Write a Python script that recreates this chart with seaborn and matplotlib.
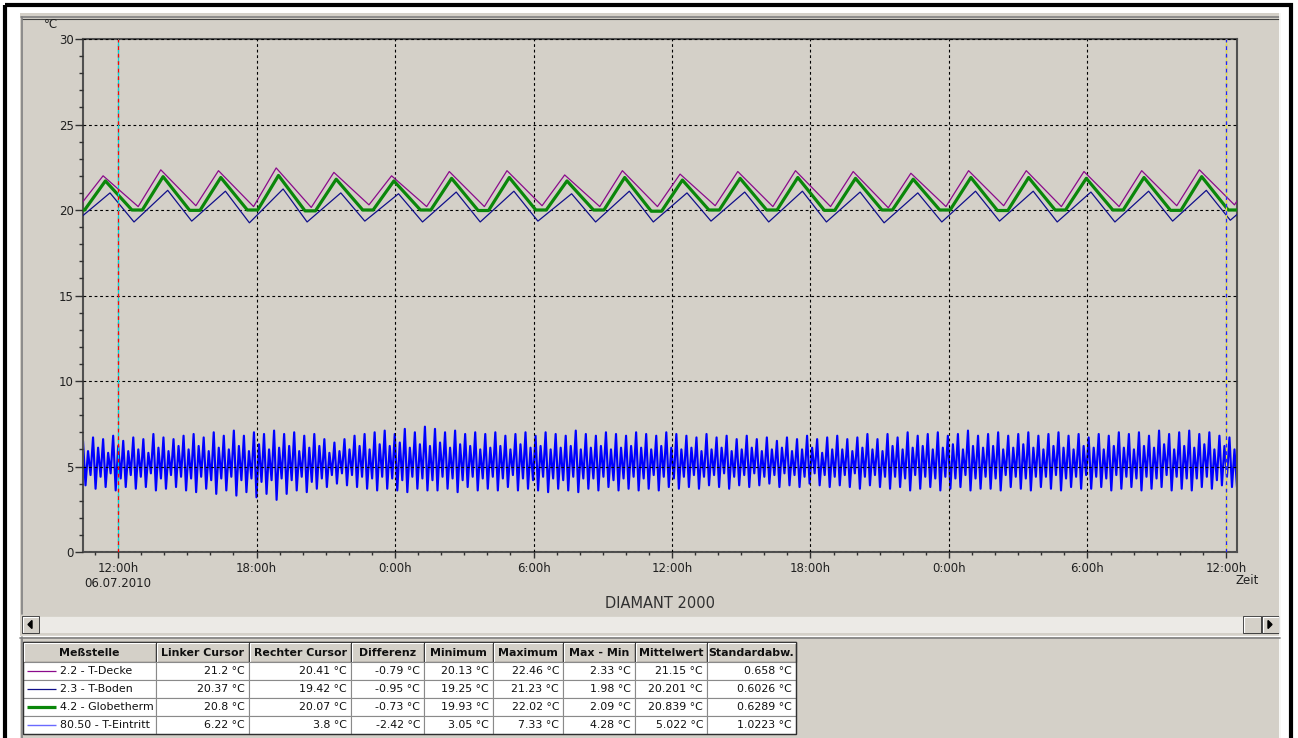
import numpy as np
import pandas as pd
import matplotlib
matplotlib.use("Agg")
import matplotlib.pyplot as plt
import seaborn as sns
from matplotlib.patches import Rectangle, Polygon
from matplotlib.ticker import MultipleLocator, FixedLocator

# ---------------- data ----------------
# hours counted from 06.07.2010 00:00
x_start, x_end = 10.48, 60.48
tick_hours = [12, 18, 24, 30, 36, 42, 48, 54, 60]
tick_labels = ["12:00h\n06.07.2010", "18:00h", "0:00h", "6:00h", "12:00h",
               "18:00h", "0:00h", "6:00h", "12:00h"]

# peak times of the daily-cycle sensors (last one is just beyond the right edge)
peak_hours = [11.35, 13.85, 16.35, 18.85, 21.35, 23.85, 26.35, 28.85, 31.35, 33.85,
              36.35, 38.85, 41.35, 43.85, 46.35, 48.85, 51.35, 53.85, 56.35, 58.85, 61.35]

decke_peak = [22.0, 22.35, 22.3, 22.46, 22.2, 22.0, 22.25, 22.3, 22.05, 22.3,
              22.1, 22.25, 22.3, 22.25, 22.15, 22.3, 22.3, 22.25, 22.3, 22.35, 22.3]
decke_trough = [20.3, 20.2, 20.25, 20.2, 20.15, 20.3, 20.2, 20.2, 20.25, 20.2,
                20.2, 20.25, 20.2, 20.2, 20.13, 20.2, 20.25, 20.2, 20.2, 20.25, 20.3]

globe_peak = [21.7, 21.95, 21.9, 22.02, 21.8, 21.7, 21.85, 21.9, 21.7, 21.9,
              21.75, 21.85, 21.9, 21.85, 21.8, 21.9, 21.9, 21.85, 21.9, 21.95, 21.9]
globe_trough = [20.0, 20.0, 19.98, 20.0, 19.95, 20.0, 20.0, 19.97, 20.0, 20.0,
                19.93, 20.0, 20.0, 19.98, 20.0, 20.0, 19.97, 20.0, 20.0, 19.98, 20.0]

boden_peak = [21.0, 21.15, 21.1, 21.23, 21.0, 20.95, 21.05, 21.1, 20.95, 21.1,
              21.0, 21.05, 21.1, 21.05, 21.0, 21.1, 21.1, 21.05, 21.1, 21.15, 21.1]
boden_trough = [19.35, 19.3, 19.35, 19.25, 19.3, 19.35, 19.3, 19.3, 19.35, 19.3,
                19.3, 19.35, 19.3, 19.3, 19.25, 19.3, 19.35, 19.3, 19.3, 19.35, 19.4]

# T-Eintritt: fast oscillation, alternating highs and lows
eintritt_hi = [
    6.5, 5.9, 6.7, 6.1, 6.6, 5.8, 6.8, 6.2, 6.5, 5.9,
    6.7, 6.0, 6.6, 5.8, 6.9, 6.1, 6.7, 5.9, 6.6, 6.2,
    6.8, 6.0, 6.9, 6.2, 6.7, 5.9, 7.0, 6.1, 6.8, 6.0,
    7.1, 6.2, 6.8, 5.9, 7.0, 6.3, 6.9, 6.0, 7.1, 6.1,
    6.9, 6.2, 7.0, 5.9, 6.8, 6.1, 6.9, 6.2, 6.6, 5.8,
    6.4, 5.9, 6.6, 6.0, 6.8, 6.2, 6.9, 6.0, 7.0, 6.3,
    7.1, 6.2, 6.9, 6.4, 7.2, 6.1, 7.0, 6.3, 7.33, 6.2,
    7.2, 6.4, 7.0, 6.1, 7.1, 6.3, 6.9, 6.2, 7.0, 6.0,
    6.9, 6.1, 7.0, 6.2, 6.8, 6.0, 6.9, 6.3, 7.0, 6.1,
    6.8, 6.2, 7.0, 6.0, 6.9, 6.1, 6.8, 6.2, 7.1, 6.0,
    6.9, 6.1, 6.8, 6.2, 7.0, 6.0, 6.9, 6.1, 6.8, 6.2,
    7.0, 6.1, 6.9, 6.0, 6.8, 6.2, 7.0, 6.1, 6.9, 6.0,
    6.8, 6.1, 6.7, 5.9, 6.9, 6.0, 6.7, 6.1, 6.8, 5.9,
    6.6, 6.0, 6.8, 6.1, 6.6, 5.9, 6.7, 6.0, 6.5, 6.1,
    6.7, 5.9, 6.6, 6.0, 6.8, 6.1, 6.6, 5.8, 6.7, 6.0,
    6.8, 6.0, 6.6, 5.9, 6.7, 6.1, 6.9, 6.0, 6.6, 5.9,
    6.9, 6.2, 6.7, 6.0, 7.0, 6.1, 6.8, 6.2, 6.9, 6.0,
    7.0, 6.1, 6.8, 6.3, 6.9, 6.0, 7.1, 6.2, 6.8, 6.1,
    6.9, 6.2, 7.0, 6.0, 6.8, 6.1, 6.9, 6.3, 7.0, 6.1,
    6.8, 6.0, 6.9, 6.2, 7.0, 6.1, 6.8, 6.0, 6.9, 6.2,
    6.7, 6.1, 6.9, 6.0, 6.8, 6.2, 7.0, 6.1, 6.9, 6.0,
    7.0, 6.2, 6.8, 6.1, 7.1, 6.3, 6.9, 6.0, 7.0, 6.2,
    7.1, 6.1, 6.9, 6.3, 7.0, 6.0, 6.8, 6.2, 6.7, 6.0,
]
eintritt_lo = [
    3.9, 4.5, 3.7, 4.4, 3.8, 4.6, 3.6, 4.3, 3.8, 4.5,
    3.7, 4.4, 3.8, 4.6, 3.6, 4.3, 3.7, 4.5, 3.8, 4.4,
    3.6, 4.3, 3.5, 4.4, 3.7, 4.2, 3.4, 4.3, 3.6, 4.4,
    3.3, 4.2, 3.5, 4.3, 3.2, 4.1, 3.4, 4.2, 3.05, 4.3,
    3.4, 4.2, 3.6, 4.4, 3.5, 4.1, 3.7, 4.3, 3.8, 4.5,
    4.0, 4.6, 3.9, 4.5, 3.8, 4.4, 3.7, 4.3, 3.6, 4.4,
    3.7, 4.3, 3.6, 4.2, 3.5, 4.4, 3.7, 4.3, 3.6, 4.2,
    3.6, 4.4, 3.7, 4.3, 3.5, 4.2, 3.8, 4.4, 3.6, 4.3,
    3.7, 4.4, 3.6, 4.3, 3.8, 4.5, 3.6, 4.3, 3.7, 4.2,
    3.6, 4.4, 3.5, 4.3, 3.7, 4.2, 3.6, 4.4, 3.5, 4.3,
    3.7, 4.3, 3.6, 4.4, 3.8, 4.2, 3.6, 4.3, 3.7, 4.4,
    3.6, 4.3, 3.7, 4.5, 3.6, 4.4, 3.8, 4.3, 3.7, 4.4,
    3.8, 4.5, 3.7, 4.4, 3.9, 4.5, 3.8, 4.6, 3.7, 4.4,
    3.9, 4.5, 3.8, 4.6, 3.9, 4.4, 4.0, 4.5, 3.8, 4.6,
    3.9, 4.5, 3.8, 4.4, 4.0, 4.6, 3.9, 4.5, 3.8, 4.4,
    3.9, 4.5, 3.8, 4.6, 3.7, 4.4, 3.9, 4.5, 3.8, 4.4,
    3.7, 4.4, 3.8, 4.3, 3.6, 4.5, 3.7, 4.4, 3.8, 4.3,
    3.6, 4.4, 3.7, 4.3, 3.8, 4.5, 3.6, 4.3, 3.7, 4.4,
    3.7, 4.3, 3.6, 4.5, 3.8, 4.4, 3.7, 4.3, 3.6, 4.4,
    3.8, 4.4, 3.7, 4.5, 3.6, 4.3, 3.8, 4.4, 3.7, 4.5,
    3.7, 4.4, 3.8, 4.3, 3.6, 4.5, 3.7, 4.4, 3.8, 4.3,
    3.6, 4.4, 3.7, 4.3, 3.8, 4.5, 3.6, 4.4, 3.7, 4.3,
    3.6, 4.3, 3.8, 4.4, 3.7, 4.2, 3.9, 4.4, 3.8, 3.8,
]

# table contents
tab_header = ["Meßstelle", "Linker Cursor", "Rechter Cursor", "Differenz", "Minimum",
              "Maximum", "Max - Min", "Mittelwert", "Standardabw."]
sensor_names = ["2.2 - T-Decke", "2.3 - T-Boden", "4.2 - Globetherm", "80.50 - T-Eintritt"]
linker_cursor = ["21.2", "20.37", "20.8", "6.22"]
rechter_cursor = ["20.41", "19.42", "20.07", "3.8"]
differenz = ["-0.79", "-0.95", "-0.73", "-2.42"]
minimum = ["20.13", "19.25", "19.93", "3.05"]
maximum = ["22.46", "21.23", "22.02", "7.33"]
max_min = ["2.33", "1.98", "2.09", "4.28"]
mittelwert = ["21.15", "20.201", "20.839", "5.022"]
standardabw = ["0.658", "0.6026", "0.6289", "1.0223"]

chart_title = "DIAMANT 2000"

# ---------------- helpers ----------------
PERIOD = 2.5


def cycle_vertices(peaks, pvals, tvals, lag, fall, flat):
    rise = PERIOD - fall - flat
    t, v = [], []
    for pt, pv, tv in zip(peaks, pvals, tvals):
        tp = pt + lag
        t0 = tp - rise
        if flat > 0:
            t += [t0 - flat, t0]
            v += [tv, tv]
        else:
            t.append(t0)
            v.append(tv)
        t.append(tp)
        v.append(pv)
    return t, v


dt, dv = cycle_vertices(peak_hours, decke_peak, decke_trough, 0.0, 1.52, 0.0)
gt, gv = cycle_vertices(peak_hours, globe_peak, globe_trough, 0.1, 1.15, 0.45)
bt, bv = cycle_vertices(peak_hours, boden_peak, boden_trough, 0.3, 1.04, 0.0)
ev = np.column_stack([eintritt_hi, eintritt_lo]).ravel()
et = np.linspace(x_start, x_end, len(ev))

df = pd.concat([
    pd.DataFrame({"t": dt, "v": dv, "s": sensor_names[0]}),
    pd.DataFrame({"t": bt, "v": bv, "s": sensor_names[1]}),
    pd.DataFrame({"t": gt, "v": gv, "s": sensor_names[2]}),
    pd.DataFrame({"t": et, "v": ev, "s": sensor_names[3]}),
], ignore_index=True)

colors = {sensor_names[0]: "#8b0a8b", sensor_names[1]: "#10108a",
          sensor_names[2]: "#0a870a", sensor_names[3]: "#0000ff"}
widths = {sensor_names[0]: 0.9, sensor_names[1]: 0.9,
          sensor_names[2]: 2.3, sensor_names[3]: 1.55}
zorders = {sensor_names[0]: 3.2, sensor_names[1]: 3.1,
           sensor_names[2]: 3.3, sensor_names[3]: 2.0}

# ---------------- figure ----------------
sns.set_style("ticks")
plt.rcParams["font.family"] = ["DejaVu Sans"]
GRAY = "#d4d0c8"
W, H = 1298, 738
fig = plt.figure(figsize=(W / 100, H / 100), dpi=100, facecolor="white")

ui = fig.add_axes([0, 0, 1, 1])
ui.set_xlim(0, W)
ui.set_ylim(H, 0)
ui.axis("off")
ui.set_zorder(0)

# window frame
ui.add_patch(Rectangle((20, 13), 1261, 740, facecolor=GRAY, edgecolor="none"))
ui.add_patch(Rectangle((5, 5), 1286, 745, fill=False, edgecolor="black", linewidth=3.0))
ui.plot([21, 1279], [17, 17], color="#808080", lw=1.2)
ui.plot([22, 1279], [18.5, 18.5], color="#404040", lw=0.8)
ui.plot([21.5, 21.5], [17, 614], color="#808080", lw=1.2)
ui.plot([1280, 1280], [13, 738], color="white", lw=1.2)

# scrollbar
ui.add_patch(Rectangle((22, 616), 1257, 17, facecolor="#eceae6", edgecolor="none",
                       hatch="....", linewidth=0))
ui.add_patch(Rectangle((22, 616), 1257, 17, fill=False, edgecolor="#d4d0c8", linewidth=0.6))
for bx, bw in [(22, 17), (1243, 18), (1262, 17)]:
    ui.add_patch(Rectangle((bx, 616), bw, 17, facecolor=GRAY, edgecolor="#404040", linewidth=0.7))
    ui.plot([bx + 1, bx + bw - 1], [617.2, 617.2], color="white", lw=0.8)
    ui.plot([bx + 1.2, bx + 1.2], [617, 632], color="white", lw=0.8)
ui.add_patch(Polygon([[28, 624.5], [32, 620.5], [32, 628.5]], closed=True, color="black"))
ui.add_patch(Polygon([[1272, 624.5], [1268, 620.5], [1268, 628.5]], closed=True, color="black"))

# separator above the table
ui.plot([20, 1280], [635.5, 635.5], color="white", lw=1.0)
ui.plot([20, 1280], [637.5, 637.5], color="#808080", lw=1.2)
ui.plot([21.5, 21.5], [637, 738], color="#808080", lw=1.2)

# table
col_x = [23, 156, 249, 351, 424, 493, 563, 635, 707, 796]
hdr_top, hdr_h, row_h = 642, 20, 18
columns = [linker_cursor, rechter_cursor, differenz, minimum, maximum,
           max_min, mittelwert, standardabw]
for j, name in enumerate(tab_header):
    x0, x1 = col_x[j], col_x[j + 1]
    ui.add_patch(Rectangle((x0, hdr_top), x1 - x0, hdr_h, facecolor=GRAY,
                           edgecolor="#303030", linewidth=0.9))
    ui.plot([x0 + 1, x1 - 1], [hdr_top + 1.2, hdr_top + 1.2], color="white", lw=0.8)
    ui.plot([x0 + 1.2, x0 + 1.2], [hdr_top + 1, hdr_top + hdr_h - 1], color="white", lw=0.8)
    ui.text((x0 + x1) / 2, hdr_top + hdr_h / 2 + 0.5, name, ha="center", va="center",
            fontsize=7.9, fontweight="bold", color="#101010")
for i, sname in enumerate(sensor_names):
    y0 = hdr_top + hdr_h + i * row_h
    for j in range(len(tab_header)):
        x0, x1 = col_x[j], col_x[j + 1]
        ui.add_patch(Rectangle((x0, y0), x1 - x0, row_h, facecolor="white",
                               edgecolor="#8a8a8a", linewidth=0.8))
    yc = y0 + row_h / 2
    ui.plot([27, 56], [yc, yc], color=colors[sname] if i < 3 else "#6a6aff",
            lw=widths[sname] if i != 3 else 1.0, solid_capstyle="butt")
    ui.text(60, yc + 0.5, sname, ha="left", va="center", fontsize=7.9, color="#101010")
    for j, col in enumerate(columns):
        ui.text(col_x[j + 2] - 4, yc + 0.5, f"{col[i]} °C", ha="right", va="center",
                fontsize=7.9, color="#101010")
tab_bottom = hdr_top + hdr_h + len(sensor_names) * row_h
ui.add_patch(Rectangle((col_x[0], hdr_top), col_x[-1] - col_x[0], tab_bottom - hdr_top,
                       fill=False, edgecolor="#303030", linewidth=1.0))

# labels outside plot
ui.text(51, 25, "°C", ha="center", va="center", fontsize=8.5, color="#202020")
ui.text(1247, 580, "Zeit", ha="center", va="center", fontsize=8.5, color="#202020")
ui.text(660, 604, chart_title, ha="center", va="center", fontsize=10.5, color="#303030")

# ---------------- chart ----------------
ax = fig.add_axes([83 / W, (H - 552) / H, (1237 - 83) / W, (552 - 39) / H])
ax.set_zorder(1)
ax.set_facecolor(GRAY)

for sname in [sensor_names[3], sensor_names[1], sensor_names[0], sensor_names[2]]:
    sub = df[df["s"] == sname]
    sns.lineplot(data=sub, x="t", y="v", ax=ax, color=colors[sname],
                 linewidth=widths[sname], estimator=None, sort=False,
                 zorder=zorders[sname], legend=False)

ax.set_xlim(x_start, x_end)
ax.set_ylim(0, 30)
ax.xaxis.set_major_locator(FixedLocator(tick_hours))
ax.set_xticklabels(tick_labels)
ax.xaxis.set_minor_locator(MultipleLocator(1))
ax.yaxis.set_major_locator(MultipleLocator(5))
ax.yaxis.set_minor_locator(MultipleLocator(1))
ax.set_xlabel("")
ax.set_ylabel("")

ax.tick_params(axis="x", which="major", direction="out", length=4, width=1.0,
               color="#303030", labelsize=8.5, labelcolor="#202020", pad=3)
ax.tick_params(axis="x", which="minor", direction="out", length=2.5, width=1.0,
               color="#303030")
ax.tick_params(axis="y", which="major", direction="out", length=6, width=1.0,
               color="#303030", labelsize=8.5, labelcolor="#202020", pad=0.5)
ax.tick_params(axis="y", which="minor", direction="out", length=3, width=1.0,
               color="#303030")
for sp in ax.spines.values():
    sp.set_visible(True)
    sp.set_color("#505050")
    sp.set_linewidth(1.5)

ax.set_axisbelow(False)
ax.grid(which="major", color="black", linestyle=(0, (2.5, 2.5)), linewidth=0.8)
ax.grid(which="minor", visible=False)

# cursors
ax.axvline(12, color="#00d8d8", lw=0.9, zorder=5)
ax.axvline(12, color="red", lw=0.9, ls=(0, (3, 3)), zorder=6)
ax.axvline(60, color="#e8e040", lw=0.9, zorder=5)
ax.axvline(60, color="#2020ff", lw=0.9, ls=(0, (3, 3)), zorder=6)

fig.savefig("out.png", dpi=100, facecolor="white")
